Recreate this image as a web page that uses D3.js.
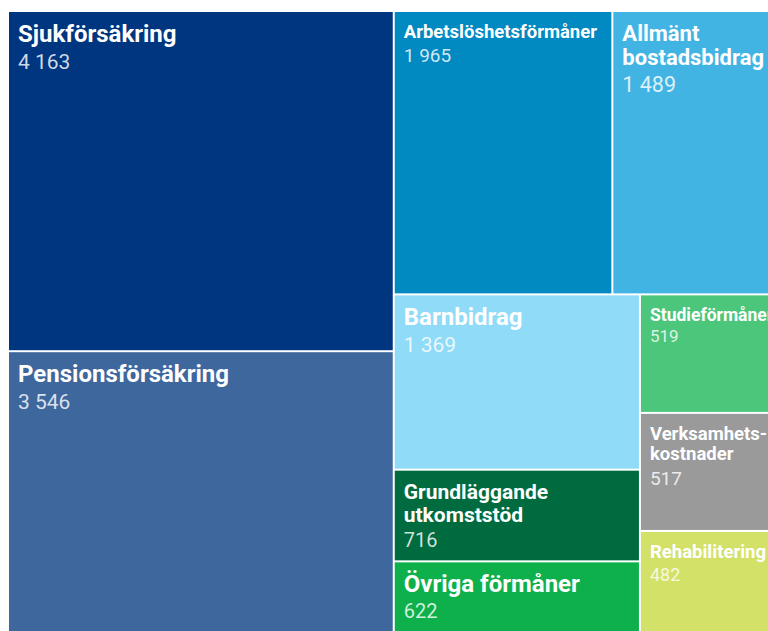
<!DOCTYPE html>
<html>
<head>
<meta charset="utf-8">
<style>
  body {
    margin: 0;
    background: #fff;
    overflow: hidden;
    font-family: Roboto, 'Noto Sans', sans-serif;
  }
  .label { fill: #fff; font-weight: 700; }
  .value { fill: #fff; fill-opacity: 0.82; font-weight: 400; }
</style>
</head>
<body>
<svg id="chart" width="768" height="631"></svg>
<script src="https://cdn.jsdelivr.net/npm/d3@7"></script>
<script>
  // data
  const categories = ["Sjukförsäkring", "Pensionsförsäkring", "Arbetslöshetsförmåner",
    "Allmänt bostadsbidrag", "Barnbidrag", "Grundläggande utkomststöd", "Övriga förmåner",
    "Studieförmåner", "Verksamhets\u00ADkostnader", "Rehabilitering"];
  const values = [4163, 3546, 1965, 1489, 1369, 716, 622, 519, 517, 482];

  // styles
  const colors = ["#00357f", "#3e679e", "#0189c1", "#42b4e4", "#90dbf7",
    "#006b3e", "#0db04b", "#4cc67b", "#9a9a9a", "#d3e168"];
  // [label, value] font size per tile
  const fontSizes = [[24, 21], [24, 21], [18.5, 19], [22, 21.5], [24, 21],
    [21, 20], [24, 20], [17.5, 17], [18.5, 19], [18.5, 18]];

  const margin = { top: 12, left: 9 };
  const width = 768, height = 628;

  const svg = d3.select("#chart");
  const g = svg.append("g").attr("transform", "translate(" + margin.left + "," + margin.top + ")");

  const color = d3.scaleOrdinal().domain(categories).range(colors);
  const fmt = d3.formatLocale({ decimal: ",", thousands: "\u00a0", grouping: [3], currency: ["", " kr"] }).format(",d");

  const root = d3.hierarchy({ children: categories.map((c, i) => ({ name: c, value: values[i], idx: i })) })
    .sum(d => d.value || 0)
    .sort((a, b) => b.value - a.value);

  d3.treemap()
    .size([width, height])
    .paddingInner(2)
    .tile(d3.treemapSquarify)(root);

  const tile = g.selectAll("g.tile")
    .data(root.leaves())
    .join("g")
      .attr("class", "tile")
      .attr("transform", d => "translate(" + d.x0 + "," + d.y0 + ")");

  tile.append("rect")
    .attr("width", d => d.x1 - d.x0)
    .attr("height", d => d.y1 - d.y0)
    .attr("fill", d => color(d.data.name));

  // split a name into lines that fit the tile; soft hyphens are optional breaks
  function wrap(textEl, name, maxW) {
    const words = name.split(" ");
    const lines = [];
    let cur = "";
    const fits = s => { textEl.text(s); return textEl.node().getComputedTextLength() <= maxW; };
    words.forEach(word => {
      const full = word.replace(/\u00AD/g, "");
      const cand = cur === "" ? full : cur + " " + full;
      if (fits(cand)) { cur = cand; return; }
      if (word.indexOf("\u00AD") < 0) {
        if (cur !== "") lines.push(cur);
        cur = full;
        return;
      }
      if (cur !== "") { lines.push(cur); cur = ""; }
      const parts = word.split("\u00AD");
      let piece = "";
      parts.forEach((p, i) => {
        const tail = i < parts.length - 1 ? "-" : "";
        if (piece !== "" && !fits(piece + p + tail)) { lines.push(piece + "-"); piece = p; }
        else piece = piece + p;
      });
      cur = piece;
    });
    if (cur !== "") lines.push(cur);
    return lines;
  }

  tile.each(function(d) {
    const sel = d3.select(this);
    const fs = fontSizes[d.data.idx];
    const w = d.x1 - d.x0;
    const pad = 9;
    const probe = sel.append("text").attr("class", "label").style("font-size", fs[0] + "px");
    const lines = wrap(probe, d.data.name, w - 2 * pad);
    probe.remove();

    let y = 13 + 0.711 * fs[0];
    lines.forEach((line, i) => {
      if (i > 0) y += 1.1 * fs[0];
      sel.append("text")
        .attr("class", "label")
        .attr("x", pad)
        .attr("y", y)
        .style("font-size", fs[0] + "px")
        .text(line);
    });
    y += 1.27 * fs[1];
    sel.append("text")
      .attr("class", "value")
      .attr("x", pad)
      .attr("y", y)
      .style("font-size", fs[1] + "px")
      .text(fmt(d.data.value));
  });
</script>
</body>
</html>
